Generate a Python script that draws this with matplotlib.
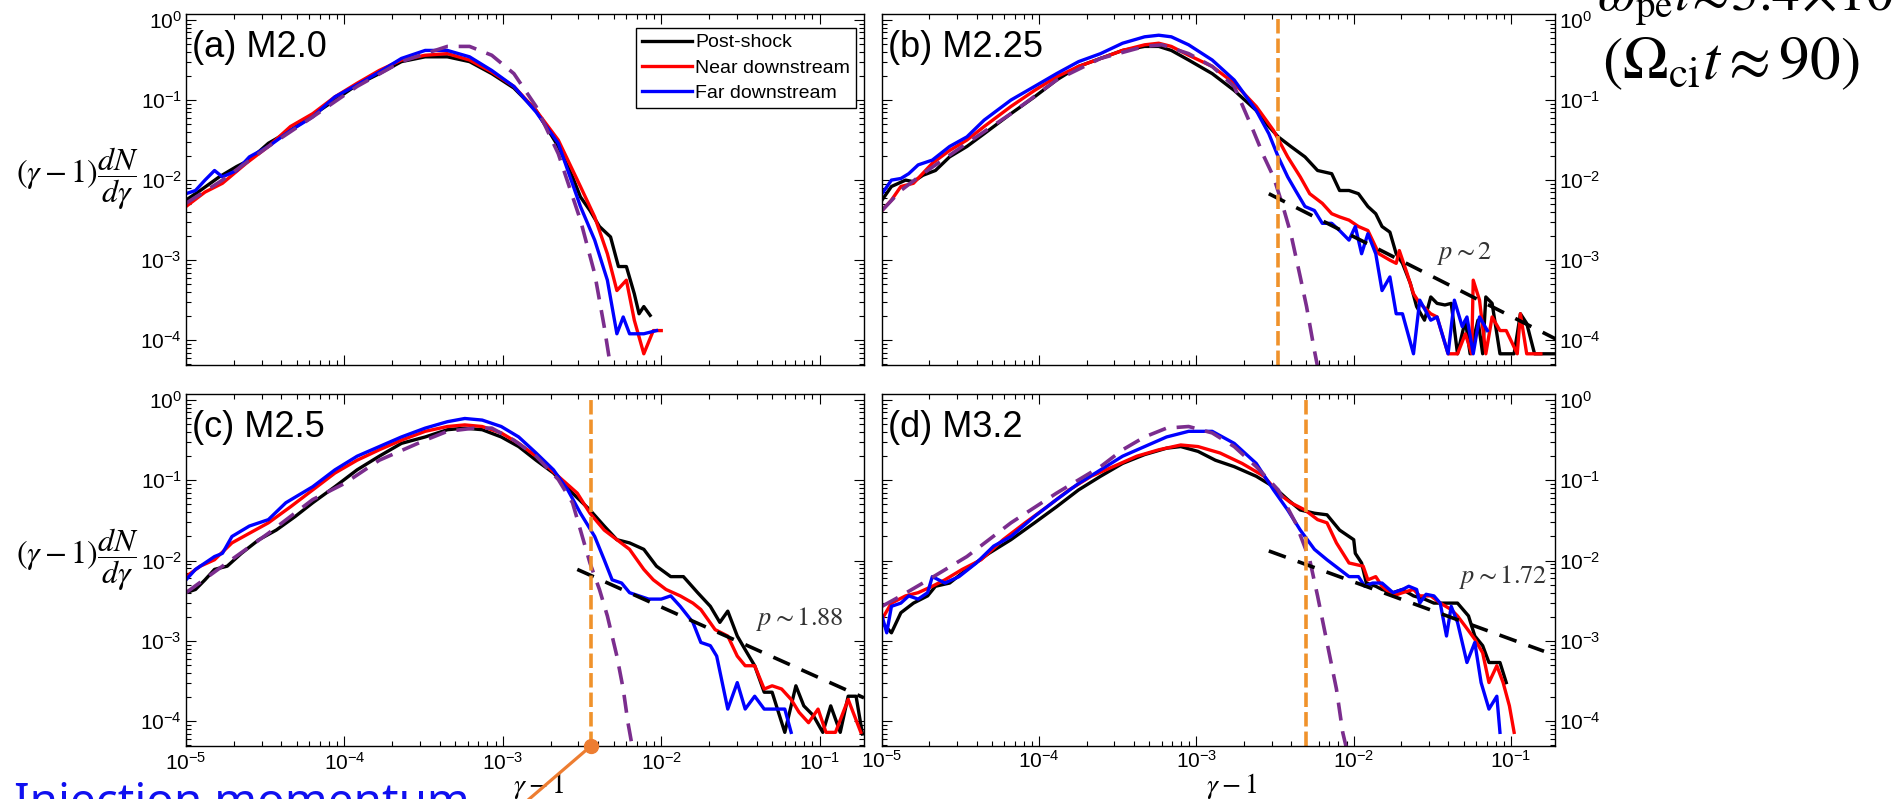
import numpy as np
import matplotlib
matplotlib.use('Agg')
import matplotlib.pyplot as plt
from matplotlib.ticker import LogLocator, NullFormatter

plt.rcParams['font.family'] = ['Liberation Sans', 'DejaVu Sans']
plt.rcParams['axes.unicode_minus'] = False
plt.rcParams['axes.linewidth'] = 1.0

# spectra, as (log10(gamma-1), log10((gamma-1) dN/dgamma))
a_post = [(-5.00,-2.25),(-4.91,-2.13),(-4.79,-1.96),(-4.68,-1.83),(-4.60,-1.75),(-4.48,-1.54),(-4.34,-1.38),(-4.20,-1.19),(-4.06,-1.00),(-3.92,-0.81),(-3.78,-0.67),(-3.64,-0.52),(-3.49,-0.46),(-3.35,-0.46),(-3.21,-0.52),(-3.07,-0.67),(-2.93,-0.85),(-2.79,-1.13),(-2.65,-1.58),(-2.56,-1.96),(-2.51,-2.21),(-2.45,-2.38),(-2.39,-2.58),(-2.32,-2.71),(-2.27,-3.08),(-2.22,-3.08),(-2.17,-3.42),(-2.14,-3.67),(-2.11,-3.58),(-2.07,-3.69)]
a_near = [(-5.00,-2.33),(-4.88,-2.15),(-4.77,-2.04),(-4.62,-1.79),(-4.48,-1.58),(-4.34,-1.33),(-4.20,-1.17),(-4.06,-0.96),(-3.92,-0.79),(-3.78,-0.63),(-3.64,-0.50),(-3.49,-0.44),(-3.35,-0.42),(-3.21,-0.50),(-3.07,-0.65),(-2.93,-0.83),(-2.79,-1.13),(-2.65,-1.50),(-2.51,-2.08),(-2.42,-2.46),(-2.34,-2.92),(-2.28,-3.38),(-2.22,-3.25),(-2.17,-3.75),(-2.11,-4.17),(-2.05,-3.88),(-2.00,-3.88)]
a_far = [(-5.00,-2.17),(-4.94,-2.13),(-4.88,-2.00),(-4.82,-1.88),(-4.77,-1.96),(-4.68,-1.88),(-4.60,-1.71),(-4.48,-1.58),(-4.34,-1.38),(-4.20,-1.21),(-4.06,-0.96),(-3.92,-0.81),(-3.78,-0.65),(-3.64,-0.48),(-3.49,-0.38),(-3.35,-0.38),(-3.21,-0.46),(-3.07,-0.63),(-2.93,-0.83),(-2.79,-1.15),(-2.65,-1.54),(-2.51,-2.33),(-2.42,-2.75),(-2.34,-3.25),(-2.28,-3.92),(-2.24,-3.71),(-2.20,-3.92),(-2.11,-3.92),(-2.03,-3.88)]
a_fit = [(-5.00,-2.29),(-4.77,-2.00),(-4.48,-1.58),(-4.20,-1.21),(-3.92,-0.83),(-3.64,-0.52),(-3.49,-0.42),(-3.35,-0.33),(-3.21,-0.33),(-3.07,-0.44),(-2.93,-0.67),(-2.79,-1.08),(-2.65,-1.67),(-2.51,-2.50),(-2.42,-3.17),(-2.36,-3.83),(-2.32,-4.33)]

b_post = [(-5.00,-2.25),(-4.94,-2.08),(-4.85,-2.00),(-4.80,-2.02),(-4.74,-1.94),(-4.66,-1.88),(-4.57,-1.71),(-4.46,-1.58),(-4.35,-1.42),(-4.18,-1.17),(-4.03,-0.96),(-3.89,-0.75),(-3.75,-0.58),(-3.61,-0.48),(-3.47,-0.38),(-3.33,-0.33),(-3.24,-0.33),(-3.16,-0.38),(-3.05,-0.50),(-2.90,-0.67),(-2.76,-0.88),(-2.62,-1.13),(-2.54,-1.33),(-2.48,-1.46),(-2.40,-1.58),(-2.31,-1.71),(-2.23,-1.88),(-2.14,-1.92),(-2.09,-2.13),(-2.03,-2.13),(-1.97,-2.17),(-1.91,-2.33),(-1.86,-2.42),(-1.82,-2.58),(-1.77,-2.65),(-1.73,-2.92),(-1.69,-3.04),(-1.64,-3.29),(-1.60,-3.58),(-1.55,-3.75),(-1.51,-3.46),(-1.47,-3.54),(-1.42,-3.56),(-1.38,-3.54),(-1.34,-4.17),(-1.29,-3.75),(-1.26,-4.17),(-1.21,-3.75),(-1.18,-4.17),(-1.16,-3.46),(-1.12,-3.54),(-1.07,-4.17),(-0.98,-4.17),(-0.94,-3.67),(-0.90,-3.79),(-0.85,-4.17),(-0.71,-4.17)]
b_near = [(-5.00,-2.38),(-4.94,-2.25),(-4.88,-2.08),(-4.80,-2.04),(-4.68,-1.79),(-4.57,-1.63),(-4.46,-1.50),(-4.35,-1.33),(-4.18,-1.08),(-4.03,-0.88),(-3.89,-0.71),(-3.75,-0.58),(-3.61,-0.48),(-3.47,-0.38),(-3.33,-0.31),(-3.24,-0.29),(-3.16,-0.33),(-3.05,-0.44),(-2.90,-0.58),(-2.76,-0.79),(-2.62,-1.08),(-2.51,-1.38),(-2.42,-1.71),(-2.34,-1.96),(-2.28,-2.17),(-2.20,-2.29),(-2.14,-2.42),(-2.09,-2.46),(-2.03,-2.50),(-1.97,-2.58),(-1.91,-2.63),(-1.84,-2.92),(-1.77,-3.00),(-1.73,-3.04),(-1.71,-2.88),(-1.66,-3.17),(-1.62,-3.42),(-1.58,-3.54),(-1.51,-3.67),(-1.47,-3.71),(-1.40,-4.17),(-1.34,-4.17),(-1.29,-3.92),(-1.25,-4.17),(-1.24,-3.25),(-1.20,-3.50),(-1.16,-4.17),(-1.12,-3.71),(-1.07,-3.88),(-1.03,-3.88),(-0.96,-4.17),(-0.94,-3.67),(-0.90,-4.17),(-0.81,-4.17)]
b_far = [(-5.00,-2.17),(-4.94,-2.00),(-4.88,-1.98),(-4.83,-1.92),(-4.77,-1.81),(-4.68,-1.75),(-4.57,-1.58),(-4.46,-1.46),(-4.35,-1.25),(-4.18,-1.00),(-4.03,-0.83),(-3.89,-0.67),(-3.75,-0.52),(-3.61,-0.42),(-3.47,-0.29),(-3.33,-0.21),(-3.24,-0.19),(-3.16,-0.21),(-3.05,-0.31),(-2.90,-0.50),(-2.76,-0.75),(-2.62,-1.13),(-2.54,-1.42),(-2.48,-1.71),(-2.42,-1.96),(-2.37,-2.13),(-2.31,-2.33),(-2.25,-2.38),(-2.20,-2.54),(-2.14,-2.54),(-2.09,-2.63),(-2.03,-2.75),(-1.99,-2.58),(-1.95,-2.92),(-1.91,-2.67),(-1.86,-2.92),(-1.82,-3.38),(-1.77,-3.21),(-1.73,-3.67),(-1.69,-3.67),(-1.62,-4.17),(-1.58,-3.50),(-1.51,-3.75),(-1.47,-3.71),(-1.40,-4.17),(-1.36,-3.50),(-1.31,-3.83),(-1.28,-3.71),(-1.24,-4.17),(-1.20,-3.71),(-1.15,-3.88)]
b_fit = [(-5.00,-2.38),(-4.88,-2.13),(-4.74,-1.92),(-4.46,-1.54),(-4.18,-1.17),(-3.89,-0.75),(-3.61,-0.48),(-3.33,-0.33),(-3.22,-0.31),(-3.05,-0.42),(-2.90,-0.58),(-2.76,-0.83),(-2.65,-1.33),(-2.57,-1.71),(-2.51,-1.96),(-2.45,-2.33),(-2.40,-2.67),(-2.34,-3.21),(-2.30,-3.58),(-2.25,-4.13),(-2.23,-4.33)]

c_post = [(-5.00,-2.40),(-4.94,-2.36),(-4.88,-2.24),(-4.82,-2.11),(-4.74,-2.07),(-4.65,-1.91),(-4.54,-1.74),(-4.43,-1.62),(-4.31,-1.45),(-4.20,-1.28),(-4.06,-1.08),(-3.92,-0.87),(-3.78,-0.70),(-3.64,-0.54),(-3.49,-0.46),(-3.35,-0.37),(-3.24,-0.35),(-3.13,-0.37),(-3.01,-0.46),(-2.90,-0.58),(-2.79,-0.75),(-2.68,-0.91),(-2.56,-1.16),(-2.45,-1.37),(-2.36,-1.57),(-2.28,-1.74),(-2.20,-1.78),(-2.11,-1.86),(-2.03,-2.07),(-1.94,-2.20),(-1.86,-2.20),(-1.77,-2.40),(-1.69,-2.57),(-1.63,-2.77),(-1.58,-2.63),(-1.52,-2.94),(-1.47,-3.11),(-1.41,-3.31),(-1.35,-3.64),(-1.30,-3.64),(-1.22,-4.14),(-1.15,-3.56),(-1.10,-3.81),(-1.04,-3.93),(-0.98,-4.14),(-0.93,-3.81),(-0.87,-4.14),(-0.82,-3.69),(-0.77,-3.69),(-0.73,-4.16)]
c_near = [(-5.00,-2.20),(-4.91,-2.07),(-4.82,-1.99),(-4.71,-1.78),(-4.60,-1.66),(-4.48,-1.53),(-4.34,-1.33),(-4.20,-1.12),(-4.06,-0.91),(-3.92,-0.75),(-3.78,-0.62),(-3.64,-0.50),(-3.49,-0.39),(-3.35,-0.33),(-3.24,-0.31),(-3.13,-0.33),(-3.01,-0.41),(-2.90,-0.54),(-2.79,-0.70),(-2.65,-0.95),(-2.53,-1.16),(-2.45,-1.41),(-2.36,-1.62),(-2.28,-1.74),(-2.20,-1.86),(-2.11,-2.11),(-2.05,-2.24),(-1.97,-2.36),(-1.88,-2.44),(-1.80,-2.53),(-1.75,-2.61),(-1.66,-2.86),(-1.58,-2.94),(-1.52,-3.19),(-1.47,-3.31),(-1.41,-3.31),(-1.35,-3.60),(-1.30,-3.56),(-1.24,-3.60),(-1.18,-3.73),(-1.13,-3.89),(-1.07,-4.02),(-1.01,-3.85),(-0.96,-4.14),(-0.90,-4.14),(-0.82,-3.73),(-0.74,-4.14)]
c_far = [(-5.00,-2.24),(-4.94,-2.11),(-4.88,-2.03),(-4.82,-1.95),(-4.77,-1.91),(-4.71,-1.70),(-4.60,-1.57),(-4.48,-1.49),(-4.37,-1.28),(-4.20,-1.08),(-4.06,-0.87),(-3.92,-0.70),(-3.78,-0.58),(-3.64,-0.46),(-3.49,-0.35),(-3.35,-0.27),(-3.24,-0.23),(-3.13,-0.25),(-3.01,-0.33),(-2.90,-0.46),(-2.79,-0.66),(-2.68,-0.87),(-2.59,-1.12),(-2.51,-1.41),(-2.42,-1.70),(-2.36,-1.99),(-2.31,-2.24),(-2.25,-2.28),(-2.20,-2.40),(-2.14,-2.44),(-2.08,-2.48),(-2.00,-2.48),(-1.94,-2.44),(-1.88,-2.57),(-1.80,-2.77),(-1.75,-3.02),(-1.69,-3.06),(-1.65,-3.19),(-1.58,-3.85),(-1.52,-3.52),(-1.47,-3.85),(-1.41,-3.69),(-1.35,-3.85),(-1.30,-3.85),(-1.22,-3.85),(-1.18,-4.14)]
c_fit = [(-5.00,-2.40),(-4.77,-2.07),(-4.48,-1.66),(-4.20,-1.24),(-4.00,-1.04),(-3.78,-0.75),(-3.49,-0.50),(-3.35,-0.39),(-3.18,-0.35),(-3.07,-0.35),(-2.93,-0.50),(-2.79,-0.70),(-2.65,-0.99),(-2.56,-1.28),(-2.51,-1.62),(-2.45,-2.03),(-2.39,-2.36),(-2.34,-2.69),(-2.28,-3.19),(-2.24,-3.60),(-2.21,-4.02),(-2.18,-4.35)]

d_post = [(-5.00,-2.77),(-4.94,-2.90),(-4.88,-2.65),(-4.80,-2.53),(-4.71,-2.44),(-4.66,-2.32),(-4.57,-2.28),(-4.46,-2.11),(-4.32,-1.91),(-4.18,-1.74),(-4.03,-1.53),(-3.89,-1.33),(-3.75,-1.12),(-3.61,-0.95),(-3.47,-0.79),(-3.33,-0.68),(-3.19,-0.60),(-3.10,-0.58),(-2.99,-0.64),(-2.88,-0.75),(-2.76,-0.83),(-2.62,-0.95),(-2.51,-1.08),(-2.42,-1.24),(-2.34,-1.37),(-2.25,-1.41),(-2.17,-1.43),(-2.09,-1.62),(-2.00,-1.74),(-1.99,-1.91),(-1.95,-2.03),(-1.92,-2.28),(-1.86,-2.32),(-1.82,-2.36),(-1.75,-2.40),(-1.69,-2.36),(-1.62,-2.44),(-1.55,-2.48),(-1.49,-2.53),(-1.45,-2.53),(-1.38,-2.53),(-1.34,-2.53),(-1.27,-2.69),(-1.23,-2.94),(-1.18,-3.06),(-1.14,-3.27),(-1.07,-3.27),(-1.03,-3.52)]
d_near = [(-5.00,-2.73),(-4.94,-2.53),(-4.85,-2.44),(-4.77,-2.40),(-4.68,-2.32),(-4.60,-2.24),(-4.49,-2.11),(-4.37,-1.99),(-4.23,-1.74),(-4.09,-1.53),(-3.95,-1.33),(-3.81,-1.12),(-3.67,-0.95),(-3.53,-0.83),(-3.38,-0.70),(-3.24,-0.62),(-3.10,-0.56),(-2.99,-0.58),(-2.85,-0.66),(-2.71,-0.79),(-2.57,-0.95),(-2.48,-1.16),(-2.40,-1.28),(-2.31,-1.37),(-2.23,-1.49),(-2.17,-1.53),(-2.11,-1.78),(-2.03,-2.03),(-1.94,-2.07),(-1.91,-2.24),(-1.86,-2.20),(-1.82,-2.32),(-1.75,-2.44),(-1.69,-2.40),(-1.62,-2.36),(-1.58,-2.44),(-1.51,-2.44),(-1.45,-2.53),(-1.38,-2.61),(-1.34,-2.69),(-1.29,-2.82),(-1.23,-2.98),(-1.18,-3.15),(-1.14,-3.52),(-1.09,-3.31),(-1.05,-3.52),(-1.01,-3.81),(-0.98,-4.14)]
d_far = [(-5.00,-2.69),(-4.97,-2.90),(-4.94,-2.57),(-4.88,-2.53),(-4.83,-2.44),(-4.77,-2.48),(-4.71,-2.40),(-4.68,-2.20),(-4.60,-2.28),(-4.51,-2.20),(-4.40,-2.03),(-4.29,-1.82),(-4.18,-1.70),(-4.03,-1.45),(-3.89,-1.24),(-3.75,-1.04),(-3.61,-0.87),(-3.47,-0.70),(-3.33,-0.58),(-3.19,-0.46),(-3.05,-0.39),(-2.90,-0.39),(-2.76,-0.54),(-2.62,-0.79),(-2.51,-1.12),(-2.42,-1.37),(-2.34,-1.62),(-2.25,-1.86),(-2.17,-1.99),(-2.09,-2.11),(-2.03,-2.20),(-1.97,-2.20),(-1.93,-2.32),(-1.88,-2.28),(-1.82,-2.28),(-1.75,-2.40),(-1.69,-2.36),(-1.65,-2.32),(-1.60,-2.36),(-1.58,-2.53),(-1.54,-2.42),(-1.49,-2.44),(-1.45,-2.53),(-1.41,-2.94),(-1.38,-2.57),(-1.34,-2.77),(-1.28,-3.27),(-1.23,-3.02),(-1.19,-3.52),(-1.14,-3.85),(-1.09,-3.69),(-1.07,-4.14)]
d_fit = [(-5.00,-2.57),(-4.88,-2.44),(-4.74,-2.28),(-4.46,-1.95),(-4.18,-1.53),(-3.89,-1.16),(-3.61,-0.83),(-3.47,-0.62),(-3.33,-0.46),(-3.19,-0.35),(-3.05,-0.33),(-2.90,-0.41),(-2.76,-0.58),(-2.62,-0.83),(-2.48,-1.12),(-2.37,-1.53),(-2.28,-1.99),(-2.23,-2.44),(-2.17,-3.02),(-2.11,-3.60),(-2.07,-4.14),(-2.04,-4.39)]

# power-law guides (end points, log10) and injection energies
b_pl = [(-2.54,-2.17),(-0.71,-3.99)]
c_pl = [(-2.53,-2.11),(-0.72,-3.71)]
d_pl = [(-2.54,-1.88),(-0.79,-3.13)]
inj = [None, 3.3e-3, 3.6e-3, 5.0e-3]

titles = ['(a) M2.0', '(b) M2.25', '(c) M2.5', '(d) M3.2']
p_text = [None, r'$p\sim2$', r'$p\sim1.88$', r'$p\sim1.72$']
p_pos = [None, (-1.47, -2.92), (-1.40, -2.73), (-1.33, -2.20)]
legend_labels = ['Post-shock', 'Near downstream', 'Far downstream']

panels = [(a_post, a_near, a_far, a_fit, None),
          (b_post, b_near, b_far, b_fit, b_pl),
          (c_post, c_near, c_far, c_fit, c_pl),
          (d_post, d_near, d_far, d_fit, d_pl)]

W, H = 1894, 799
boxes = [(186, 14, 678, 351), (882, 14, 673, 351), (186, 394, 678, 352), (882, 394, 673, 352)]
orange = '#F0922B'
purple = '#7B2D8E'
xmin, xmax = 1e-5, 10 ** -0.72
ymin, ymax = 10 ** -4.31, 10 ** 0.075

fig = plt.figure(figsize=(W / 100, H / 100), dpi=100)
axes = []
for i, (post, near, far, fit, pl) in enumerate(panels):
    x0, y0, w, h = boxes[i]
    ax = fig.add_axes([x0 / W, 1 - (y0 + h) / H, w / W, h / H])
    axes.append(ax)
    ax.set_xscale('log')
    ax.set_yscale('log')

    for curve, col in zip([post, near, far], ['black', 'red', 'blue']):
        lx, ly = np.array(curve).T
        ax.plot(10 ** lx, 10 ** ly, color=col, lw=2.4)
    lx, ly = np.array(fit).T
    ax.plot(10 ** lx, 10 ** ly, color=purple, lw=2.6, dashes=(5, 3))
    if pl is not None:
        lx, ly = np.array(pl).T
        ax.plot(10 ** lx, 10 ** ly, color='black', lw=2.6, dashes=(5, 3.5))
    if inj[i] is not None:
        ax.axvline(inj[i], color=orange, lw=2.6, dashes=(4, 1.4))
    if p_text[i] is not None:
        px, py = p_pos[i]
        ax.text(10 ** px, 10 ** py, p_text[i], fontsize=19, math_fontfamily='stix',
                ha='left', va='center', color='#333333')

    ax.text(0.009, 0.955, titles[i], transform=ax.transAxes, fontsize=26,
            ha='left', va='top')

    ax.set_xlim(xmin, xmax)
    ax.set_ylim(ymin, ymax)
    for axis in [ax.xaxis, ax.yaxis]:
        axis.set_major_locator(LogLocator(base=10, numticks=12))
        axis.set_minor_locator(LogLocator(base=10, subs=np.arange(2, 10), numticks=12))
        axis.set_minor_formatter(NullFormatter())
    ax.tick_params(which='both', direction='in', top=True, right=True, bottom=True, left=True,
                   labelsize=15)
    ax.tick_params(which='major', length=7, width=0.8)
    ax.tick_params(which='minor', length=3.5, width=0.8)
    ax.tick_params(axis='x', pad=4)
    if i < 2:
        ax.tick_params(labelbottom=False)
    if i % 2 == 1:
        ax.tick_params(labelleft=False, labelright=True, pad=3)
    else:
        ax.tick_params(axis='y', pad=3)
        ax.text(-0.069, 0.53, r'$(\gamma-1)\dfrac{dN}{d\gamma}$', transform=ax.transAxes,
                fontsize=23, math_fontfamily='stix', ha='right', va='center')
    if i >= 2:
        ax.text(0.52, -0.07, r'$\gamma-1$', transform=ax.transAxes, fontsize=20,
                math_fontfamily='stix', ha='center', va='top')

# legend in panel (a)
handles = [axes[0].lines[k] for k in range(3)]
leg = axes[0].legend(handles, legend_labels, loc='upper right', bbox_to_anchor=(0.988, 0.96),
                     fontsize=14, frameon=True, fancybox=False, edgecolor='black', framealpha=1,
                     handlelength=2.6, handletextpad=0.15, borderpad=0.3, labelspacing=0.4,
                     borderaxespad=0)
leg.get_frame().set_linewidth(1.0)

# injection momentum marker and pointer in panel (c)
ax_c = axes[2]
ax_c.plot([inj[2]], [ymin], 'o', color='#ED7D31', ms=10, clip_on=False, zorder=5)
ax_c.annotate('', xy=(inj[2], ymin), xytext=(-78, -67), textcoords='offset points',
              arrowprops=dict(arrowstyle='-', color='#ED7D31', lw=2.3, shrinkA=0, shrinkB=0),
              annotation_clip=False)
fig.text(14 / W, 1 - 781 / H, 'Injection momentum', fontsize=33, color='#1010F0',
         family=['Noto Sans', 'DejaVu Sans'], ha='left', va='top')

# simulation time in the upper right corner
fig.text(1597 / W, 1 - 10 / H, r'$\omega_{\rm pe}t\!\approx\!3.4\!\times\!10^4$', fontsize=40,
         math_fontfamily='stix', ha='left', va='baseline')
fig.text(1602 / W, 1 - 64 / H, r'$(\Omega_{\rm ci}t \approx 90)$', fontsize=44,
         math_fontfamily='stix', ha='left', va='center')

fig.savefig('out.png', dpi=100)
